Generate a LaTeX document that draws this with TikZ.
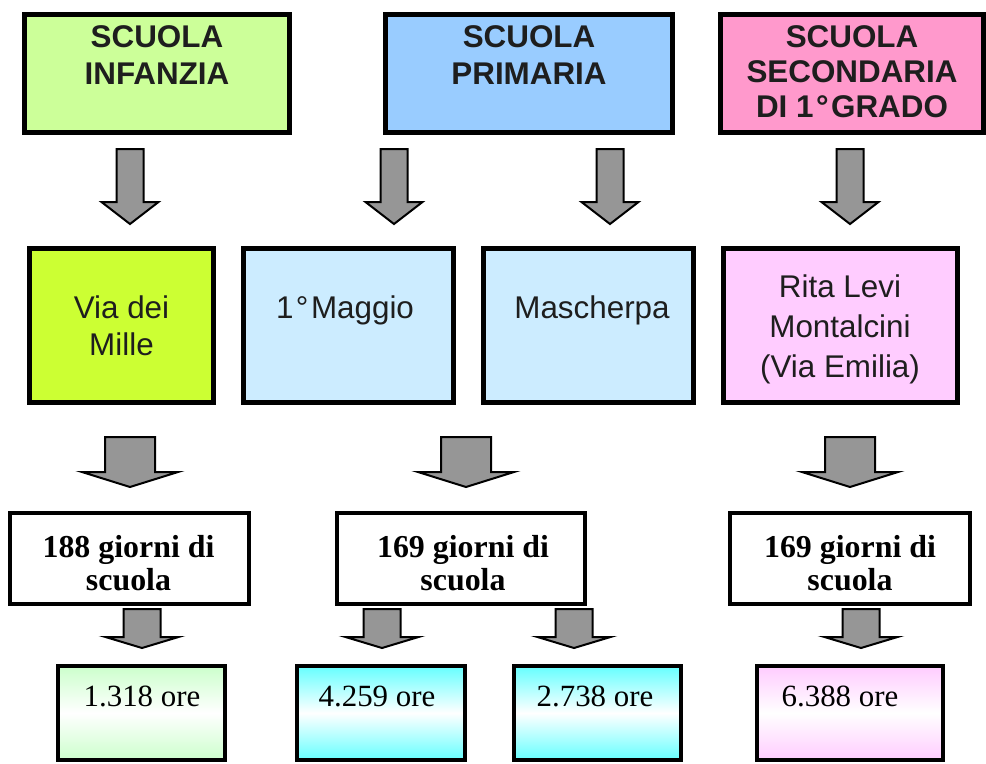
\documentclass[tikz,border=0pt]{standalone}
\usepackage{fontspec}
\setmainfont{Liberation Serif}
\newfontfamily\arialf{Liberation Sans}
\newfontfamily\timesf{Liberation Serif}
\definecolor{txtc}{RGB}{30,30,30}
\definecolor{infc}{RGB}{204,255,153}
\definecolor{pric}{RGB}{153,204,255}
\definecolor{secc}{RGB}{255,153,204}
\definecolor{millec}{RGB}{204,255,51}
\definecolor{maggc}{RGB}{204,236,255}
\definecolor{ritac}{RGB}{255,204,255}
\definecolor{greenc}{RGB}{204,255,204}
\definecolor{cyanc}{RGB}{102,255,255}
\definecolor{pinkc}{RGB}{255,204,255}
\definecolor{arrc}{RGB}{150,150,150}
\newcommand\degsp{\kern2.5bp°\kern2.5bp}
\newcommand\blockarrow[6]{% cx, top, base, tip, shaft half width, head half width
  \draw[barrow] ({#1-#5},#2) -- ({#1+#5},#2) -- ({#1+#5},#3) -- ({#1+#6},#3)
    -- (#1,#4) -- ({#1-#6},#3) -- ({#1-#5},#3) -- cycle;}
\begin{document}
\begin{tikzpicture}[x=1bp,y=-1bp,
  box/.style={draw=black, rectangle, inner sep=0pt, line width=5bp},
  wbox/.style={draw=black, fill=white, rectangle, inner sep=0pt, line width=3.5bp},
  obox/.style={draw=black, rectangle, inner sep=0pt, line width=4bp, middle color=white},
  headtxt/.style={anchor=north, inner sep=0pt, align=center, text=txtc,
    font=\arialf\bfseries\fontsize{31.5}{37}\selectfont},
  midtxt/.style={anchor=north, inner sep=0pt, align=center, text=txtc,
    font=\arialf\fontsize{31.5}{37}\selectfont},
  daytxt/.style={anchor=north, inner sep=0pt, align=center, text=black,
    font=\timesf\bfseries\fontsize{32}{33}\selectfont},
  oretxt/.style={anchor=north, inner sep=0pt, align=center, text=black,
    font=\timesf\fontsize{31}{36}\selectfont},
  barrow/.style={draw=black, fill=arrc, line width=2bp, line join=miter}
]
\useasboundingbox (0,0) rectangle (986,764);

% top row
\node[box, fill=infc, minimum width=265, minimum height=118] (t1) at (157,73.5) {};
\node[box, fill=pric, minimum width=289, minimum height=118] (t2) at (529,73.5) {};
\node[box, fill=secc, minimum width=263, minimum height=118] (t3) at (852,73.5) {};
\node[headtxt] (t1txt) at (157,25.3) {SCUOLA\\INFANZIA};
\node[headtxt] (t2txt) at (529,25.3) {SCUOLA\\PRIMARIA};
\node[headtxt, font=\arialf\bfseries\fontsize{31.5}{35}\selectfont] (t3txt) at (852,25.3) {SCUOLA\\SECONDARIA\\DI 1\degsp GRADO};

% top arrows
\blockarrow{130}{149}{202}{224}{13.5}{28.5}
\blockarrow{394}{149}{202}{224}{13.5}{28.5}
\blockarrow{610}{149}{202}{224}{13.5}{28.5}
\blockarrow{850}{149}{202}{224}{13.5}{28.5}

% middle row
\node[box, fill=millec, minimum width=184, minimum height=154] (mA) at (121.5,325.5) {};
\node[box, fill=maggc, minimum width=210, minimum height=154] (mB) at (348.5,325.5) {};
\node[box, fill=maggc, minimum width=210, minimum height=154] (mC) at (588.5,325.5) {};
\node[box, fill=ritac, minimum width=234, minimum height=154] (mD) at (840.5,325.5) {};
\node[midtxt] (mAtxt) at (121.5,295.4) {Via dei\\Mille};
\node[midtxt] (mBtxt) at (345,295.4) {1\degsp Maggio};
\node[midtxt] (mCtxt) at (592,295.4) {Mascherpa};
\node[midtxt, font=\arialf\fontsize{31.5}{40}\selectfont] (mDtxt) at (840,274.4) {Rita Levi\\Montalcini\\(Via Emilia)};

% middle arrows
\blockarrow{130}{437}{472}{487}{25}{48}
\blockarrow{466}{437}{472}{487}{25}{48}
\blockarrow{850}{437}{472}{487}{25}{48}

% third row
\node[wbox, minimum width=239.5, minimum height=91.5] (w1) at (129.5,558.5) {};
\node[wbox, minimum width=248.5, minimum height=91.5] (w2) at (461,558.5) {};
\node[wbox, minimum width=240.5, minimum height=91.5] (w3) at (850,558.5) {};
\node[daytxt] (w1txt) at (128.5,535.4) {188 giorni di\\scuola};
\node[daytxt] (w2txt) at (463,535.4) {169 giorni di\\scuola};
\node[daytxt] (w3txt) at (850,535.4) {169 giorni di\\scuola};

% bottom arrows
\blockarrow{142}{609}{637}{648}{18.5}{36.5}
\blockarrow{382}{609}{637}{648}{18.5}{36.5}
\blockarrow{574}{609}{637}{648}{18.5}{36.5}
\blockarrow{861}{609}{637}{648}{18.5}{36.5}

% bottom row
\node[obox, top color=greenc, bottom color=greenc, middle color=white, minimum width=167, minimum height=94] (b1) at (141.5,713) {};
\node[obox, top color=cyanc, bottom color=cyanc, middle color=white, minimum width=168, minimum height=94] (b2) at (381,713) {};
\node[obox, top color=cyanc, bottom color=cyanc, middle color=white, minimum width=167, minimum height=94] (b3) at (597.5,713) {};
\node[obox, top color=pinkc, bottom color=pinkc, middle color=white, minimum width=186, minimum height=94] (b4) at (850,713) {};
\node[oretxt] (b1txt) at (142,686) {1.318 ore};
\node[oretxt] (b2txt) at (377,686) {4.259 ore};
\node[oretxt] (b3txt) at (595,686) {2.738 ore};
\node[oretxt] (b4txt) at (840,686) {6.388 ore};
\end{tikzpicture}
\end{document}
